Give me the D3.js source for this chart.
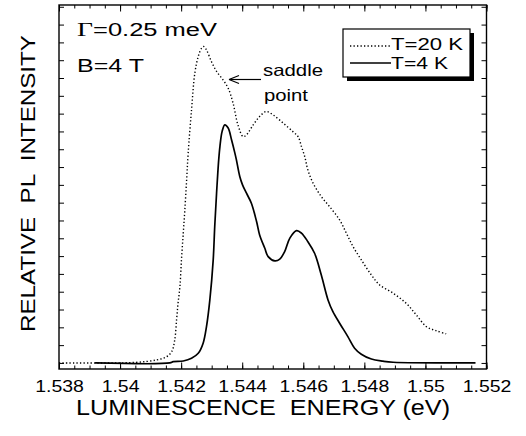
<!DOCTYPE html>
<html>
<head>
<meta charset="utf-8">
<script src="https://cdn.jsdelivr.net/npm/d3@7"></script>
<style>
  html, body { margin: 0; padding: 0; background: #fff; }
  svg { display: block; }
  text { font-family: "Liberation Sans", Arial, Helvetica, sans-serif; fill: #000; }
</style>
</head>
<body>
<svg id="chart" width="526" height="436"></svg>
<script>
// PL spectra, T = 20 K (dotted)
const energy20 = [1.5380, 1.5392, 1.5405, 1.5412, 1.54152, 1.54169, 1.54179, 1.54185, 1.54190, 1.54196,
  1.54201, 1.54207, 1.54212, 1.54218, 1.54223, 1.54234, 1.54245, 1.54256, 1.54267, 1.54274,
  1.54283, 1.54299, 1.54316, 1.54337, 1.54354, 1.54370, 1.54386, 1.54403, 1.54414, 1.54436,
  1.54457, 1.54479, 1.54501, 1.54534, 1.54566, 1.54583, 1.54594, 1.54605, 1.54615, 1.54632,
  1.54659, 1.54686, 1.54719, 1.54741, 1.54763, 1.54790, 1.54823, 1.54850, 1.54894, 1.54937,
  1.54970, 1.55003, 1.55035, 1.55068];
const intensity20 = [0, 0, 0.03, 0.17, 0.35, 0.63, 1.29, 2.42, 3.37, 4.29,
  5.79, 7.30, 8.57, 10.28, 11.78, 14.21, 16.29, 17.21, 17.68, 17.77,
  17.58, 16.93, 16.37, 15.90, 15.43, 14.59, 13.37, 12.71, 12.81, 13.37,
  13.84, 14.12, 13.93, 13.47, 12.99, 12.71, 12.15, 11.57, 10.84, 10.10,
  9.34, 8.78, 8.03, 7.29, 6.53, 5.79, 4.94, 4.38, 3.92, 3.35,
  2.70, 2.04, 1.81, 1.63];

// PL spectra, T = 4 K (solid)
const energy4 = [1.53918, 1.54163, 1.54174, 1.54207, 1.54234, 1.54256, 1.54272, 1.54283, 1.54294, 1.54305,
  1.54310, 1.54316, 1.54323, 1.54327, 1.54334, 1.54343, 1.54354, 1.54365, 1.54376, 1.54381,
  1.54392, 1.54401, 1.54414, 1.54430, 1.54447, 1.54457, 1.54474, 1.54485, 1.54507, 1.54523,
  1.54539, 1.54556, 1.54578, 1.54594, 1.54615, 1.54637, 1.54659, 1.54681, 1.54697, 1.54719,
  1.54746, 1.54768, 1.54790, 1.54823, 1.54861, 1.54894, 1.55164];
const intensity4 = [0, 0, 0.07, 0.11, 0.26, 0.54, 1.11, 2.04, 3.54, 5.79,
  7.66, 9.53, 11.40, 12.15, 12.99, 13.37, 13.19, 12.53, 11.78, 11.40,
  10.47, 10.00, 9.53, 8.97, 7.94, 7.19, 6.44, 5.97, 5.73, 5.83,
  6.25, 7.01, 7.43, 7.29, 6.81, 6.16, 4.94, 3.54, 2.88, 2.23,
  1.48, 0.83, 0.49, 0.22, 0.10, 0.04, 0];

// Axis ticks
const xMajorTicks = [1.538, 1.540, 1.542, 1.544, 1.546, 1.548, 1.550, 1.552];
const xTickLabels = ["1.538", "1.54", "1.542", "1.544", "1.546", "1.548", "1.55", "1.552"];
const xMinorTicks = d3.range(0, 29).map(i => 1.538 + i * 0.0005);
const yTicks = d3.range(0, 21);

const svg = d3.select("#chart");
const L = 59, R = 486.5, T = 5, B = 369;

const x = d3.scaleLinear().domain([1.538, 1.552]).range([L, R]);
const y = d3.scaleLinear().domain([-0.34, 20.1]).range([B, T]);

// Ticks (inward on all four sides)
function tickAxis(axis, tx, ty) {
  const g = svg.append("g").attr("transform", `translate(${tx},${ty})`).call(axis);
  g.select(".domain").remove();
  g.selectAll("line").attr("stroke", "#000").attr("stroke-width", 1);
  return g;
}
tickAxis(d3.axisBottom(x).tickValues(xMinorTicks).tickSize(-3.5).tickFormat(""), 0, B);
tickAxis(d3.axisTop(x).tickValues(xMinorTicks).tickSize(-3.5).tickFormat(""), 0, T);
tickAxis(d3.axisTop(x).tickValues(xMajorTicks).tickSize(-6.5).tickFormat(""), 0, T);
const xAxis = tickAxis(
  d3.axisBottom(x).tickValues(xMajorTicks).tickSize(-6.5).tickPadding(11.3)
    .tickFormat((d, i) => xTickLabels[i]), 0, B);
xAxis.selectAll("text")
  .attr("font-size", 16.5)
  .attr("font-family", "Liberation Sans, Arial, sans-serif")
  .attr("transform", "scale(1.18,1)");

tickAxis(d3.axisLeft(y).tickValues(yTicks).tickSize(-5).tickFormat(""), L, 0);
tickAxis(d3.axisRight(y).tickValues(yTicks).tickSize(-5).tickFormat(""), R, 0);

// Plot frame
svg.append("rect")
  .attr("x", L).attr("y", T).attr("width", R - L).attr("height", B - T)
  .attr("fill", "none").attr("stroke", "#000").attr("stroke-width", 1.4);

// Spectra
const line = d3.line()
  .x(d => x(d[0])).y(d => y(d[1]))
  .curve(d3.curveCatmullRom.alpha(0.5));

svg.append("path")
  .datum(d3.zip(energy20, intensity20))
  .attr("d", line)
  .attr("fill", "none").attr("stroke", "#000")
  .attr("stroke-width", 1.4).attr("stroke-dasharray", "1.3,2.2");

svg.append("path")
  .datum(d3.zip(energy4, intensity4))
  .attr("d", line)
  .attr("fill", "none").attr("stroke", "#000")
  .attr("stroke-width", 1.7);

// Annotations
const gammaText = svg.append("text").attr("x", 77).attr("y", 36).attr("font-size", 17.5)
  .attr("textLength", 140).attr("lengthAdjust", "spacingAndGlyphs");
gammaText.append("tspan").attr("font-family", "Liberation Serif, Times New Roman, serif")
  .attr("font-size", 19).text("Γ");
gammaText.append("tspan").text("=0.25 meV");
svg.append("text").attr("x", 77).attr("y", 72).attr("font-size", 17.5)
  .attr("textLength", 67).attr("lengthAdjust", "spacingAndGlyphs").text("B=4 T");
svg.append("text").attr("x", 263).attr("y", 76).attr("font-size", 16.5)
  .attr("textLength", 60).attr("lengthAdjust", "spacingAndGlyphs").text("saddle");
svg.append("text").attr("x", 264).attr("y", 101).attr("font-size", 16.5)
  .attr("textLength", 44).attr("lengthAdjust", "spacingAndGlyphs").text("point");

// Arrow pointing at the saddle point
svg.append("line").attr("x1", 261).attr("y1", 79.5).attr("x2", 230).attr("y2", 79.5)
  .attr("stroke", "#000").attr("stroke-width", 1.2);
svg.append("path").attr("d", "M229,79.5 L239,75.5 M229,79.5 L239,83.5")
  .attr("fill", "none").attr("stroke", "#000").attr("stroke-width", 1.2);

// Legend with drop shadow
const lg = svg.append("g");
lg.append("rect").attr("x", 347).attr("y", 33).attr("width", 127).attr("height", 48).attr("fill", "#000");
lg.append("rect").attr("x", 343).attr("y", 29).attr("width", 127).attr("height", 48)
  .attr("fill", "#fff").attr("stroke", "#000").attr("stroke-width", 1.2);
lg.append("line").attr("x1", 350).attr("x2", 390).attr("y1", 46).attr("y2", 46)
  .attr("stroke", "#000").attr("stroke-width", 1.4).attr("stroke-dasharray", "1.3,2.2");
lg.append("line").attr("x1", 350).attr("x2", 391).attr("y1", 63).attr("y2", 63)
  .attr("stroke", "#000").attr("stroke-width", 1.4);
lg.append("text").attr("x", 391).attr("y", 50).attr("font-size", 16.5)
  .attr("textLength", 72).attr("lengthAdjust", "spacingAndGlyphs").text("T=20 K");
lg.append("text").attr("x", 391).attr("y", 68.5).attr("font-size", 16.5)
  .attr("textLength", 57).attr("lengthAdjust", "spacingAndGlyphs").text("T=4 K");

// Axis titles
svg.append("text").attr("x", 263).attr("y", 415).attr("font-size", 22)
  .attr("text-anchor", "middle")
  .attr("textLength", 374).attr("lengthAdjust", "spacingAndGlyphs")
  .style("white-space", "pre")
  .text("LUMINESCENCE  ENERGY (eV)");
svg.append("text").attr("transform", "translate(35,183.5) rotate(-90)")
  .attr("font-size", 21).attr("text-anchor", "middle")
  .attr("textLength", 297).attr("lengthAdjust", "spacingAndGlyphs")
  .style("white-space", "pre")
  .text("RELATIVE  PL  INTENSITY");
</script>
</body>
</html>
